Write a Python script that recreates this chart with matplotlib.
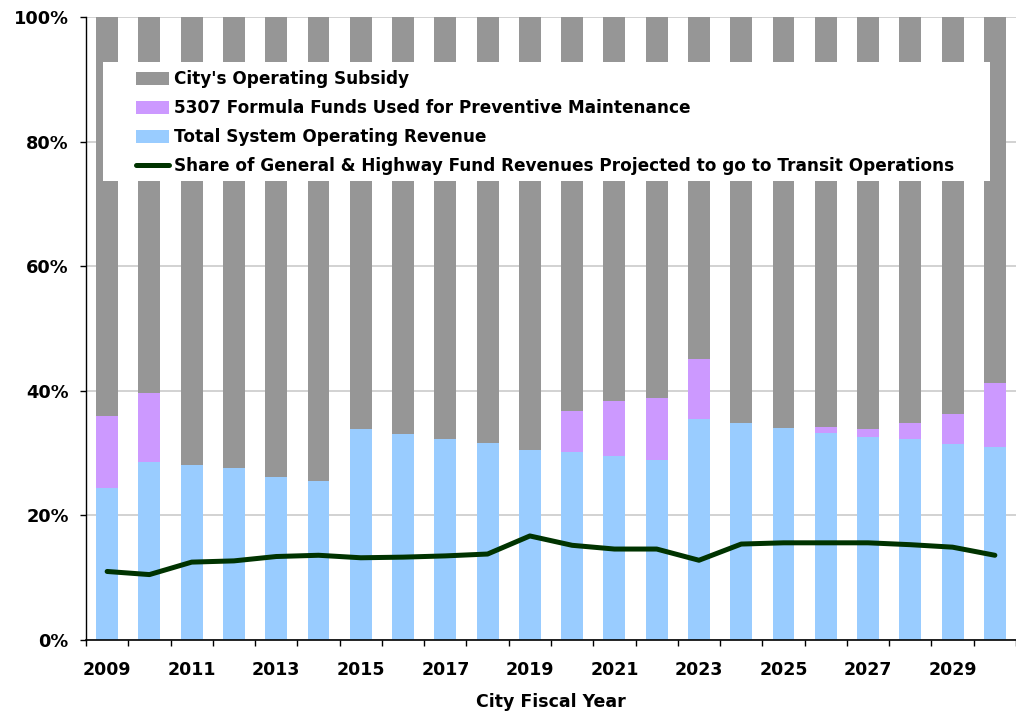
import matplotlib
matplotlib.use("Agg")
import matplotlib.pyplot as plt
import numpy as np
from matplotlib.ticker import FixedLocator, FuncFormatter
from matplotlib.patches import Rectangle

years = list(range(2009, 2031))
revenue = [24.4, 28.6, 28.1, 27.6, 26.2, 25.5, 33.8, 33.0, 32.3, 31.7, 30.5,
           30.1, 29.6, 28.9, 35.5, 34.9, 34.1, 33.3, 32.6, 32.2, 31.5, 30.9]
pm_5307 = [11.5, 11.1, 0, 0, 0, 0, 0, 0, 0, 0, 0,
           6.6, 8.8, 9.9, 9.6, 0, 0, 0.9, 1.2, 2.7, 4.7, 10.4]
subsidy = [64.1, 60.3, 71.9, 72.4, 73.8, 74.5, 66.2, 67.0, 67.7, 68.3, 69.5,
           63.3, 61.6, 61.2, 54.9, 65.1, 65.9, 65.8, 66.2, 65.1, 63.8, 58.7]
share = [11.0, 10.5, 12.5, 12.7, 13.4, 13.6, 13.2, 13.3, 13.5, 13.8, 16.7,
         15.2, 14.6, 14.6, 12.8, 15.4, 15.6, 15.6, 15.6, 15.3, 14.9, 13.6]
y_ticks = [0, 20, 40, 60, 80, 100]

plt.rcParams['font.family'] = ['DejaVu Sans']
plt.rcParams['font.weight'] = 'bold'

W, H = 1016, 717
fig = plt.figure(figsize=(W / 100, H / 100), dpi=100)
ax_l, ax_r, ax_b, ax_t = 86, 1016, 640, 17
ax = fig.add_axes([ax_l / W, (H - ax_b) / H, (ax_r - ax_l) / W, (ax_b - ax_t) / H])
aw, ah = ax_r - ax_l, ax_b - ax_t

x = np.arange(len(years))
bw = 0.52
rev = np.array(revenue)
pm = np.array(pm_5307)
sub = np.array(subsidy)

b_rev = ax.bar(x, rev, bw, color='#99CCFF', zorder=2)
b_pm = ax.bar(x, pm, bw, bottom=rev, color='#CC99FF', zorder=2)
b_sub = ax.bar(x, sub, bw, bottom=rev + pm, color='#969696', zorder=2)
ln, = ax.plot(x, share, color='#003300', lw=3.6, zorder=4, solid_capstyle='round',
              solid_joinstyle='round')

ax.set_xlim(-0.5, len(years) - 0.5)
ax.set_ylim(0, 100)
ax.yaxis.set_major_locator(FixedLocator(y_ticks))
ax.yaxis.set_major_formatter(FuncFormatter(lambda v, p: f"{v:.0f}%"))
ax.grid(axis='y', color='#CFCFCF', lw=1.3, zorder=0)
ax.set_axisbelow(True)

ax.set_xticks(x[::2])
ax.set_xticklabels([str(y) for y in years[::2]])
ax.set_xticks(np.arange(-0.5, len(years), 1.0), minor=True)
ax.tick_params(axis='x', which='major', length=0, pad=15, labelsize=12.5)
ax.tick_params(axis='x', which='minor', length=4.5, width=1, direction='out')
ax.tick_params(axis='y', which='major', length=4.5, width=1, pad=8, labelsize=12.8)

for s in ['top', 'right']:
    ax.spines[s].set_visible(False)
ax.spines['left'].set_linewidth(1)
ax.spines['bottom'].set_linewidth(1.2)

ax.set_xlabel('City Fiscal Year', fontsize=12.5, fontweight='bold', labelpad=10)

# white legend background box
bg = Rectangle(((103 - ax_l) / aw, (ax_b - 181) / ah), (990 - 103) / aw, (181 - 62) / ah,
               transform=ax.transAxes, facecolor='white', edgecolor='none', zorder=5)
ax.add_patch(bg)

leg = ax.legend([b_sub, b_pm, b_rev, ln],
                ["City's Operating Subsidy",
                 "5307 Formula Funds Used for Preventive Maintenance",
                 "Total System Operating Revenue",
                 "Share of General & Highway Fund Revenues Projected to go to Transit Operations"],
                loc='upper left', bbox_to_anchor=((136 - ax_l) / aw, (ax_b - 70.5) / ah),
                frameon=False, fontsize=12.2,
                handlelength=1.95, handleheight=0.78, handletextpad=0.3,
                labelspacing=0.64, borderpad=0, borderaxespad=0)
leg.set_zorder(6)
for t in leg.get_texts():
    t.set_fontweight('bold')

fig.savefig('out.png', dpi=100)
